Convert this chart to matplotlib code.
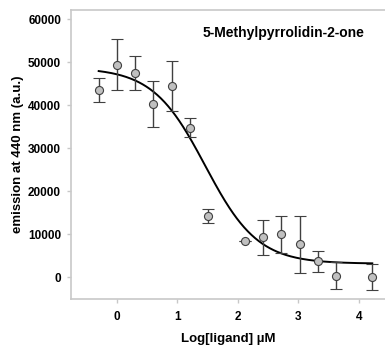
import numpy as np
import matplotlib
matplotlib.use("Agg")
import matplotlib.pyplot as plt

plt.rcParams['font.family'] = ['Liberation Sans', 'DejaVu Sans']

log_ligand = [-0.30, 0.00, 0.30, 0.60, 0.91, 1.21, 1.51, 2.12, 2.42, 2.72, 3.02, 3.32, 3.62, 4.22]
emission = [43460, 49420, 47400, 40300, 44550, 34730, 14300, 8350, 9350, 10130, 7730, 3710, 390, 160]
err_hi = [2800, 5900, 3950, 5400, 5730, 2220, 1550, 0, 4040, 4090, 6490, 2480, 3170, 3020]
err_lo = [2690, 5870, 3940, 5430, 5880, 2020, 1610, 0, 4180, 4410, 6650, 2550, 3170, 3010]

# 4-parameter logistic fit parameters
fit_top, fit_bottom, fit_logec50, fit_hill = 48700, 3200, 1.46, 1.0

fig = plt.figure(figsize=(3.85, 3.49), dpi=100)
ax = fig.add_axes([0.184, 0.1433, 0.816, 0.828])

xf = np.linspace(min(log_ligand), max(log_ligand), 300)
yf = fit_bottom + (fit_top - fit_bottom) / (1 + 10 ** ((xf - fit_logec50) * fit_hill))
ax.plot(xf, yf, color='black', lw=1.4, zorder=2)

ax.errorbar(log_ligand, emission, yerr=[err_lo, err_hi], fmt='o', ms=5.8,
            mfc='#c0c0c0', mec='#404040', mew=0.8, ecolor='#404040',
            elinewidth=1.0, capsize=4, capthick=1.0, zorder=3)

ax.set_xlim(-0.76, 4.43)
ax.set_ylim(-5000, 62100)
ax.set_xticks([0, 1, 2, 3, 4])
ax.set_yticks([0, 10000, 20000, 30000, 40000, 50000, 60000])

for s in ['left', 'bottom', 'top']:
    ax.spines[s].set_color('#c8c8c8')
    ax.spines[s].set_linewidth(1.2)
ax.spines['right'].set_visible(False)
ax.tick_params(direction='out', length=3, color='#c8c8c8', width=1, labelsize=8.5)
ax.tick_params(axis='x', pad=6)
ax.tick_params(axis='y', pad=4)
for lab in ax.get_xticklabels() + ax.get_yticklabels():
    lab.set_fontweight('bold')

ax.set_xlabel('Log[ligand] µM', fontsize=9.5, fontweight='bold', labelpad=7)
ax.set_ylabel('emission at 440 nm (a.u.)', fontsize=9.5, fontweight='bold', labelpad=3)
ax.text(0.933, 0.922, '5-Methylpyrrolidin-2-one', transform=ax.transAxes,
        ha='right', va='center', fontsize=10, fontweight='bold')

fig.savefig('out.png', dpi=100)
